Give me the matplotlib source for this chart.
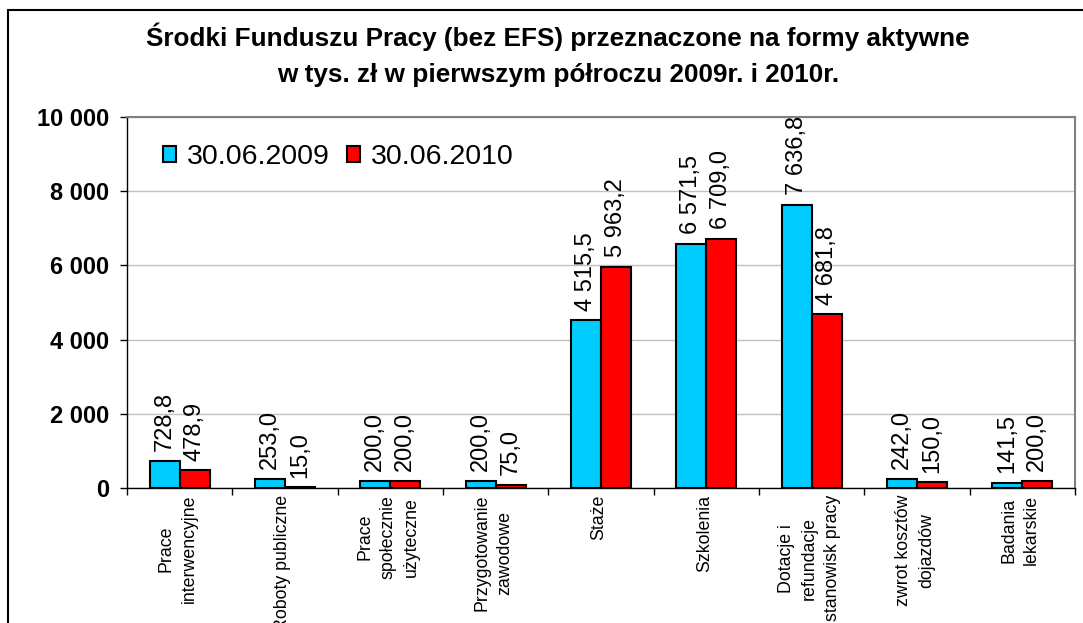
import matplotlib
matplotlib.use("Agg")
import matplotlib.pyplot as plt
from matplotlib.patches import Rectangle

plt.rcParams['font.family'] = ['Liberation Sans', 'DejaVu Sans']

# Data (thousand PLN)
categories = [
    "Prace\ninterwencyjne",
    "Roboty publiczne",
    "Prace\nspołecznie\nużyteczne",
    "Przygotowanie\nzawodowe",
    "Staże",
    "Szkolenia",
    "Dotacje i\nrefundacje\nstanowisk pracy",
    "zwrot kosztów\ndojazdów",
    "Badania\nlekarskie",
]
values_2009 = [728.8, 253.0, 200.0, 200.0, 4515.5, 6571.5, 7636.8, 242.0, 141.5]
values_2010 = [478.9, 15.0, 200.0, 75.0, 5963.2, 6709.0, 4681.8, 150.0, 200.0]
series_labels = ["30.06.2009", "30.06.2010"]
y_ticks = [0, 2000, 4000, 6000, 8000, 10000]

W, H = 1083, 623
fig = plt.figure(figsize=(W / 100, H / 100), dpi=100)

# Outer chart frame
fig.patches.append(Rectangle((8 / W, -0.2), 1.2, (H - 10) / H + 0.2,
                             transform=fig.transFigure, fill=False,
                             edgecolor='black', linewidth=1.5))

left, right, top, bottom = 127, 1075, 117, 488
ax = fig.add_axes([left / W, (H - bottom) / H, (right - left) / W, (bottom - top) / H])

n = len(categories)
x = list(range(n))
bw = 0.285
colors = ["#00CCFF", "#FF0000"]

def fmt_val(v):
    s = f"{v:,.1f}"
    return s.replace(",", " ").replace(".", ",")

for k, (vals, off) in enumerate([(values_2009, -bw / 2), (values_2010, bw / 2)]):
    xs = [xi + off for xi in x]
    ax.bar(xs, vals, width=bw, color=colors[k], edgecolor='black',
           linewidth=1.5, label=series_labels[k], zorder=3)
    for xi, v in zip(xs, vals):
        ax.annotate(fmt_val(v), (xi, v), xytext=(0, 7), textcoords='offset points',
                    rotation=90, ha='center', va='bottom', fontsize=17,
                    clip_on=False, zorder=4)

ax.set_xlim(-0.5, n - 0.5)
ax.set_ylim(0, 10000)
ax.set_yticks(y_ticks)
ax.set_yticklabels([f"{t:,}".replace(",", " ") for t in y_ticks],
                   fontsize=17, fontweight='bold')
ax.grid(axis='y', color='#C0C0C0', linewidth=1, zorder=0)
ax.set_axisbelow(True)

ax.set_xticks([i - 0.5 for i in range(n + 1)])
ax.set_xticklabels([])
ax.tick_params(axis='x', length=5, width=1, color='black', direction='out')
ax.tick_params(axis='y', length=5, width=1, color='black', direction='out', pad=8)

for i, c in enumerate(categories):
    ax.annotate(c, (i, 0), xytext=(-1.5, -5), textcoords='offset points',
                xycoords=ax.get_xaxis_transform(), rotation=90,
                ha='center', va='top', multialignment='center',
                fontsize=12.8, linespacing=1.45, annotation_clip=False)

for s in ['top', 'right']:
    ax.spines[s].set_color('#808080')
    ax.spines[s].set_linewidth(1.5)
for s in ['left', 'bottom']:
    ax.spines[s].set_color('black')
    ax.spines[s].set_linewidth(1)

leg = ax.legend(loc='upper left', bbox_to_anchor=(163 / W, (H - 144) / H),
                bbox_transform=fig.transFigure, ncol=2, frameon=False,
                fontsize=20.5, handlelength=0.45, handleheight=0.45,
                handletextpad=0.4, columnspacing=0.6, borderaxespad=0,
                borderpad=0)

title_x = 558 / W
fig.text(title_x, 1 - 37 / H, "Środki Funduszu Pracy (bez EFS) przeznaczone na formy aktywne",
         ha='center', va='center', fontsize=18.8, fontweight='bold')
fig.text(title_x, 1 - 75 / H, "w tys. zł w pierwszym półroczu 2009r. i 2010r.",
         ha='center', va='center', fontsize=18.8, fontweight='bold')

fig.savefig("out.png", dpi=100)
